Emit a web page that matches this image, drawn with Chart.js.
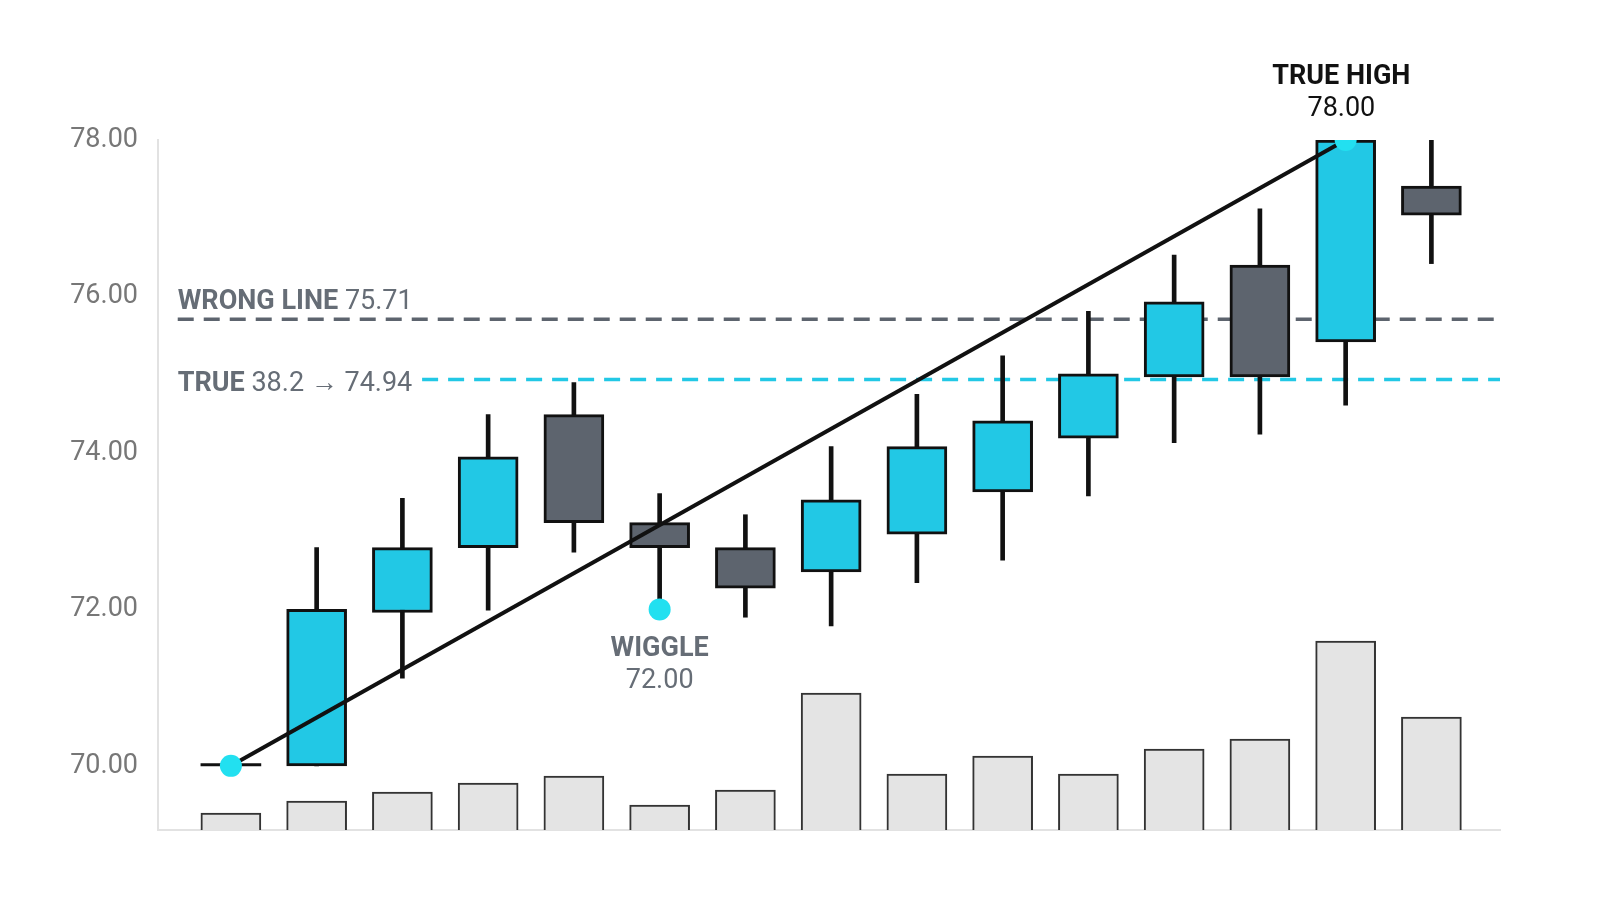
<!DOCTYPE html>
<html><head><meta charset="utf-8">
<script src="https://cdn.jsdelivr.net/npm/chart.js@4"></script>
<style>html,body{margin:0;background:#fff}</style>
</head><body>
<canvas id="c" width="1600" height="914"></canvas>
<script>
// candles: open, high, low, close
const opens  = [70.00, 70.00, 71.96, 72.79, 74.49, 73.11, 72.79, 72.48, 72.96, 73.50, 74.19, 74.97, 76.40, 75.42, 77.41];
const highs  = [70.00, 72.79, 73.42, 74.49, 74.90, 73.48, 73.21, 74.08, 74.75, 75.24, 75.81, 76.53, 77.12, 78.00, 78.00];
const lows   = [70.00, 70.00, 71.12, 71.99, 72.73, 72.00, 71.90, 71.79, 72.34, 72.63, 73.45, 74.13, 74.24, 74.61, 76.42];
const closes = [70.03, 72.00, 72.79, 73.95, 73.11, 72.79, 72.27, 73.40, 74.08, 74.41, 75.01, 75.93, 74.97, 78.00, 77.04];
const volumes = [17, 29, 38, 47, 54, 25, 40, 137, 56, 74, 56, 81, 91, 189, 113];
const yTicks = [70, 72, 74, 76, 78];
const wrongLevel = 75.71, trueLevel = 74.94;
const trendPts = [{x: 0, y: 70}, {x: 13, y: 78}];
const markers = [{x: 0, y: 70}, {x: 5, y: 72}, {x: 13, y: 78}];

const cyan = '#22c8e5', dark = '#5d646e', grey = '#666d76';
const FONT = '"Liberation Sans Narrow", Roboto, sans-serif';
const idx = opens.map((_, i) => i);

const labels = {
  id: 'labels',
  afterDatasetsDraw(chart) {
    const {ctx, scales: {x, y}} = chart;
    ctx.save();
    ctx.textBaseline = 'alphabetic';
    function pair(bold, norm, px, py, color, align) {
      ctx.font = 'bold 27px ' + FONT;
      const w1 = ctx.measureText(bold).width;
      ctx.font = '27px ' + FONT;
      const w2 = ctx.measureText(norm).width;
      let sx = align === 'left' ? px : px - (w1 + w2) / 2;
      ctx.textAlign = 'left';
      ctx.fillStyle = color;
      ctx.font = 'bold 27px ' + FONT; ctx.fillText(bold, sx, py);
      ctx.font = '27px ' + FONT; ctx.fillText(norm, sx + w1, py);
    }
    pair('WRONG LINE ', wrongLevel.toFixed(2), x.getPixelForValue(-0.62), y.getPixelForValue(wrongLevel) - 10, grey, 'left');
    pair('TRUE ', '38.2 \u2192 ' + trueLevel.toFixed(2), x.getPixelForValue(-0.62), y.getPixelForValue(trueLevel) + 12, grey, 'left');
    ctx.textAlign = 'center';
    ctx.fillStyle = grey;
    ctx.font = 'bold 27px ' + FONT;
    ctx.fillText('WIGGLE', x.getPixelForValue(5), y.getPixelForValue(72) + 47);
    ctx.font = '27px ' + FONT;
    ctx.fillText('72.00', x.getPixelForValue(5), y.getPixelForValue(72) + 79);
    ctx.fillStyle = '#111';
    ctx.font = 'bold 27px ' + FONT;
    ctx.fillText('TRUE HIGH', x.getPixelForValue(12.95), y.getPixelForValue(78) - 56);
    ctx.font = '27px ' + FONT;
    ctx.fillText('78.00', x.getPixelForValue(12.95), y.getPixelForValue(78) - 24);
    ctx.restore();
  }
};

new Chart(document.getElementById('c'), {
  data: {
    datasets: [
      { type: 'line', data: [{x: -0.62, y: wrongLevel}, {x: 14.8, y: wrongLevel}], borderColor: dark, borderWidth: 3.5, borderDash: [16, 10], pointRadius: 0, order: 5 },
      { type: 'line', data: [{x: 2.23, y: trueLevel}, {x: 14.8, y: trueLevel}], borderColor: cyan, borderWidth: 3.5, borderDash: [16, 10], pointRadius: 0, order: 5 },
      { type: 'bar', yAxisID: 'yv', data: idx.map(i => ({x: i, y: volumes[i]})), backgroundColor: '#e4e4e4', borderColor: '#333', borderWidth: 2, barThickness: 60, grouped: false, order: 6 },
      { type: 'bar', data: idx.map(i => ({x: i, y: [lows[i], highs[i]]})), backgroundColor: '#111', barThickness: 4, grouped: false, order: 4 },
      { type: 'bar', data: idx.map(i => ({x: i, y: [opens[i], closes[i]]})),
        backgroundColor: idx.map(i => i === 0 ? '#111' : (closes[i] >= opens[i] ? cyan : dark)),
        borderColor: '#111', borderWidth: idx.map(i => i === 0 ? 0 : 3), borderSkipped: false,
        barThickness: 60, grouped: false, order: 3 },
      { type: 'line', data: trendPts, borderColor: '#111', borderWidth: 4, pointRadius: 0, order: 2 },
      { type: 'scatter', data: markers, backgroundColor: '#22e0f0', borderWidth: 0, pointRadius: 11, order: 1 }
    ]
  },
  options: {
    responsive: false, animation: false,
    layout: { padding: { top: 140, bottom: 84, right: 100, left: 0 } },
    plugins: { legend: { display: false }, tooltip: { enabled: false } },
    scales: {
      x: { type: 'linear', min: -0.85, max: 14.8, offset: false, display: true,
           grid: { display: false, drawTicks: false }, ticks: { display: false },
           border: { color: '#e2e2e2', width: 2 } },
      y: { min: 69.18, max: 78,
           afterBuildTicks: s => { s.ticks = yTicks.map(v => ({value: v})); },
           afterFit: s => { s.width = 158; },
           grid: { display: false, drawTicks: false },
           border: { color: '#e2e2e2', width: 2 },
           ticks: { color: '#777', padding: 20, font: { family: FONT, size: 27 }, callback: v => v.toFixed(2) } },
      yv: { min: 0, max: 690, display: false }
    }
  },
  plugins: [labels]
});
</script>
</body></html>
